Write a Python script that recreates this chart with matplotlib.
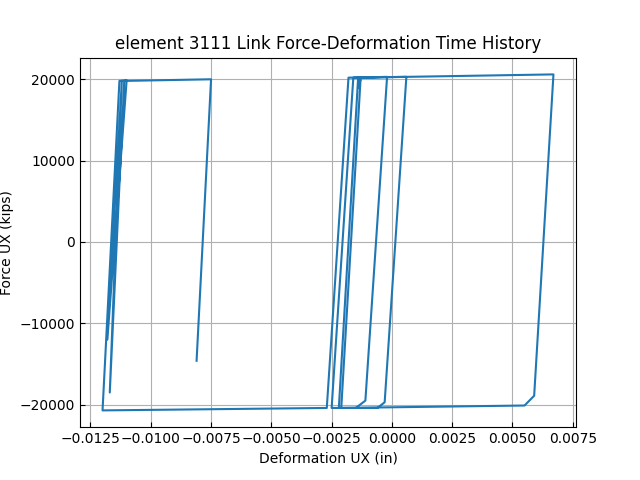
import matplotlib
matplotlib.use("Agg")
import matplotlib.pyplot as plt

deformation = [-0.0081, -0.0075, -0.0111, -0.0117, -0.0112, -0.0118, -0.0110, -0.0113, -0.0120,
               -0.0027, -0.0018, 0.0006, -0.0003, -0.0006, -0.0025, -0.0016, -0.0002, -0.0011,
               -0.0015, -0.0022, -0.0014, 0.0067, 0.0059, 0.0055, -0.0021, -0.0013, -0.0014]
force = [-14600, 20000, 19800, -18500, 19800, -12000, 19900, 19800, -20700,
         -20400, 20200, 20300, -19700, -20400, -20400, 20200, 20300, -19500,
         -20400, -20400, 20200, 20600, -18900, -20100, -20400, 20000, 19000]

fig, ax = plt.subplots(figsize=(6.4, 4.8), dpi=100)
ax.plot(deformation, force, color='#1f77b4')
ax.set_title("element 3111 Link Force-Deformation Time History")
ax.set_xlabel("Deformation UX (in)")
ax.set_ylabel("Force UX (kips)")
ax.set_xticks([-0.0125, -0.0100, -0.0075, -0.0050, -0.0025, 0.0000, 0.0025, 0.0050, 0.0075])
ax.set_yticks([-20000, -10000, 0, 10000, 20000])
ax.tick_params(direction='in')
ax.grid(True)
fig.savefig("out.png")
